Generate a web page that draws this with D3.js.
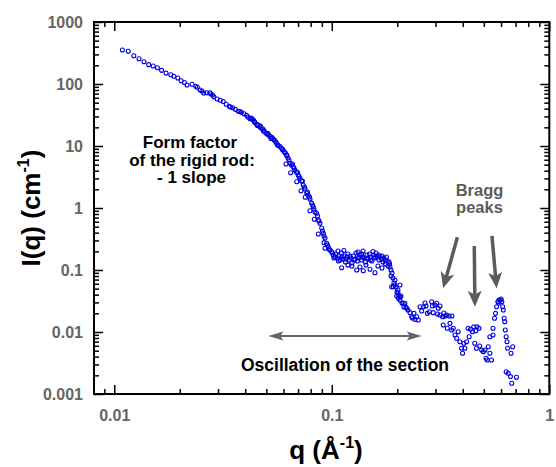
<!DOCTYPE html>
<html>
<head>
<meta charset="utf-8">
<script src="https://cdn.jsdelivr.net/npm/d3@7"></script>
<style>
  body { margin: 0; background: #fff; }
  svg { display: block; }
  text { font-family: "Liberation Sans", Arial, Helvetica, sans-serif; font-weight: bold; }
</style>
</head>
<body>
<svg id="chart" width="556" height="467"></svg>
<script>
// Scattering vector q (Å^-1)
const q = [
  0.0109,0.0116,0.0123,0.0130,0.0137,0.0144,0.0151,0.0158,0.0165,0.0173,
  0.0182,0.0188,0.0196,0.0203,0.0210,0.0216,0.0228,0.0237,0.0241,0.0248,
  0.0258,0.0266,0.0275,0.0278,0.0287,0.0297,0.0307,0.0317,0.0327,0.0338,
  0.0350,0.0360,0.0372,0.0384,0.0395,0.0406,0.0412,0.0421,0.0430,0.0436,
  0.0443,0.0452,0.0458,0.0466,0.0473,0.0481,0.0488,0.0497,0.0504,0.0514,
  0.0523,0.0533,0.0540,0.0550,0.0557,0.0567,0.0578,0.0588,0.0597,0.0605,
  0.0612,0.0616,0.0620,0.0629,0.0643,0.0647,0.0653,0.0665,0.0677,0.0688,
  0.0690,0.0701,0.0714,0.0722,0.0726,0.0739,0.0753,0.0755,0.0767,0.0780,
  0.0794,0.0794,0.0808,0.0815,0.0822,0.0831,0.0837,0.0852,0.0860,0.0867,
  0.0867,0.0883,0.0899,0.0906,0.0914,0.0921,0.0931,0.0931,0.0947,0.0964,
  0.0971,0.0981,0.0999,0.1016,0.1034,
  0.0253,0.0283,0.0342,0.0378,0.0427,0.0441,0.0455,0.0470,0.0485,0.0509,
  0.0525,0.0545,0.0563,0.0593,0.0622,0.0636,0.0660,0.0670,0.0696,0.0707,
  0.0733,0.0749,0.0773,0.0790,0.0828,0.0874,0.0921,0.0956,0.1007,0.1023,
  0.1045,0.1062,0.1068,0.1073,0.1079,0.1091,0.1108,0.1110,0.1114,0.1125,
  0.1137,0.1137,0.1156,0.1162,0.1175,0.1187,0.1187,0.1206,0.1212,0.1225,
  0.1238,0.1238,0.1258,0.1265,0.1279,0.1292,0.1302,0.1313,0.1320,0.1327,
  0.1334,0.1348,0.1348,0.1370,0.1373,0.1377,0.1392,0.1396,0.1406,0.1429,
  0.1436,0.1444,0.1451,0.1467,0.1491,0.1499,0.1506,0.1515,0.1530,0.1547,
  0.1555,0.1563,0.1580,0.1580,0.1597,0.1622,0.1630,0.1639,0.1648,0.1665,
  0.1692,0.1701,0.1701,0.1719,0.1737,0.1756,0.1765,0.1784,0.1794,0.1813,
  0.1833,0.1843,0.1852,0.1872,0.1872,0.1885,0.1891,0.1911,0.1917,0.1931,
  0.1952,0.1952,0.1973,0.1988,0.1994,0.2015,0.2015,0.2021,0.2036,0.2058,
  0.2058,0.2058,0.2080,0.2102,0.2130,0.2146,0.2169,0.2192,0.2210,0.2241,
  0.2289,0.2330,0.2350,0.2387,0.2412,0.2456,0.2499,0.2545,0.2590,0.2636,
  0.2684,0.2711,0.2750,0.2809,0.2879,0.2902,0.2928,0.2981,0.3036,0.3062,
  0.3087,0.3143,0.3143,0.3232,0.3253,0.3277,0.3312,0.3374,0.3395,0.3467,
  0.3494,0.3557,0.3568,0.3618,0.3683,0.3751,0.3813,0.3882,0.3952,0.3994,
  0.4049,0.4092,0.4165,0.4235,0.4280,0.4342,0.4433,0.4494,0.4542,0.4590,
  0.4621,0.4652,0.4751,0.4785,0.4886,0.4976,0.5067,0.5121,0.5185,0.5240,
  0.5331,0.5331,0.5422,0.5510,0.5510,0.5600,0.5655,0.5725,0.5800,0.5843,
  0.5870,0.5962,0.6003,0.6050,0.6106,0.6145,0.6202,0.6242,0.6276,0.6334,
  0.6334,0.6392,0.6433,0.6474,0.6628,0.6669,0.6718,0.6789,0.7062
];

// Scattered intensity I(q) (cm^-1)
const intensity = [
  353,337,286,256,229,205,195,183,166,150,
  141,133,125,113,106,96.3,98.9,91.8,88.5,80.0,
  71.6,72.3,72.3,69.6,62.1,57.2,54.8,52.1,47.1,43.7,
  41.5,39.0,36.3,34.9,33.1,31.2,29.4,27.5,27.2,26.2,
  23.9,22.4,21.8,20.6,19.5,19.0,17.8,16.4,15.6,14.9,
  14.2,13.5,12.7,11.9,11.2,10.3,9.80,9.18,8.62,8.09,
  7.71,5.13,7.16,6.40,5.26,3.71,4.94,4.64,4.10,3.81,
  2.65,3.41,3.01,1.90,2.73,2.35,2.03,1.49,1.75,1.62,
  1.40,0.905,1.20,1.12,1.05,0.657,0.862,0.821,0.743,0.640,
  0.381,0.566,0.476,0.426,0.391,0.276,0.328,0.224,0.270,0.235,
  0.218,0.210,0.197,0.175,0.164,
  77.1,66.5,42.6,36.0,28.3,24.9,21.4,21.0,17.5,15.9,
  13.2,12.5,10.4,8.78,7.03,5.95,5.13,4.42,3.74,3.22,
  2.73,2.18,1.81,1.50,0.963,0.617,0.354,0.253,0.188,0.156,
  0.181,0.156,0.202,0.140,0.168,0.145,0.188,0.109,0.162,0.150,
  0.168,0.206,0.135,0.150,0.162,0.181,0.120,0.145,0.168,0.156,
  0.130,0.116,0.168,0.145,0.150,0.188,0.100,0.140,0.195,0.156,
  0.162,0.175,0.112,0.145,0.181,0.162,0.202,0.0974,0.156,0.135,
  0.120,0.156,0.175,0.150,0.181,0.103,0.145,0.162,0.140,0.199,
  0.175,0.162,0.156,0.0905,0.188,0.162,0.116,0.175,0.145,0.168,
  0.150,0.168,0.108,0.135,0.156,0.145,0.125,0.162,0.140,0.116,
  0.135,0.125,0.112,0.100,0.0800,0.0538,0.0895,0.0743,0.0538,0.0617,
  0.0690,0.0573,0.0532,0.0381,0.0442,0.0476,0.0426,0.0350,0.0381,0.0328,
  0.0573,0.0367,0.0381,0.0294,0.0291,0.0253,0.0291,0.0250,0.0241,0.0226,
  0.0205,0.0176,0.0168,0.0200,0.0160,0.0176,0.0156,0.0256,0.0218,0.0256,
  0.0294,0.0263,0.0200,0.0212,0.0308,0.0263,0.0205,0.0273,0.0291,0.0195,
  0.0241,0.0263,0.0188,0.0176,0.0130,0.0202,0.0181,0.0188,0.0115,0.0181,
  0.0138,0.0108,0.0181,0.0115,0.00895,0.00791,0.0101,0.00697,0.00546,0.00454,
  0.00657,0.00546,0.00697,0.0115,0.00840,0.0111,0.0101,0.0121,0.00657,0.0105,
  0.00546,0.0121,0.0115,0.00595,0.00513,0.00482,0.00513,0.00377,0.00354,0.00579,
  0.00454,0.00840,0.00354,0.0115,0.00895,0.0167,0.0200,0.0256,0.0308,0.0294,
  0.0328,0.0328,0.0341,0.0308,0.0256,0.0226,0.0167,0.0146,0.0108,0.00840,
  0.00229,0.00697,0.00546,0.00216,0.00191,0.00454,0.00149,0.00579,0.00186
];

// Labelled decades on each axis
const xTickValues = [0.01, 0.1, 1];
const xTickLabels = ["0.01", "0.1", "1"];
const yTickValues = [0.001, 0.01, 0.1, 1, 10, 100, 1000];
const yTickLabels = ["0.001", "0.01", "0.1", "1", "10", "100", "1000"];

// Annotation texts
const formFactorLines = ["Form factor", "of the rigid rod:", "- 1 slope"];
const braggLines = ["Bragg", "peaks"];
const oscillationText = "Oscillation of the section";

// Arrow anchors in data coordinates: [q, I] for tail and tip
const braggArrows = [
  { from: [0.378, 0.337], to: [0.325, 0.0507] },
  { from: [0.452, 0.244], to: [0.455, 0.0256] },
  { from: [0.545, 0.354], to: [0.5725, 0.0507] }
];
const oscillationSpan = { qStart: 0.0511, qEnd: 0.259, level: 0.00862 };

const svg = d3.select("#chart");
const plot = { left: 94, right: 549.3, top: 22, bottom: 394 };

const x = d3.scaleLog().domain([0.00807, 1]).range([plot.left, plot.right]);
const y = d3.scaleLog().domain([0.001, 1000]).range([plot.bottom, plot.top]);

const isDecade = v => Math.abs(Math.log10(v) - Math.round(Math.log10(v))) < 1e-9;
const xMinor = x.ticks().filter(v => !isDecade(v));
const yMinor = y.ticks().filter(v => !isDecade(v));

const labelColor = "#666666";

function styleAxis(g, width) {
  g.select(".domain").remove();
  g.selectAll(".tick line").attr("stroke", "#000").attr("stroke-width", width);
}

// Bottom axis: labelled majors + minors, ticks pointing inward
const bottomMajor = svg.append("g")
  .attr("transform", `translate(0,${plot.bottom})`)
  .call(d3.axisBottom(x).tickValues(xTickValues)
    .tickFormat((d, i) => xTickLabels[i]).tickSizeInner(-9).tickSizeOuter(0).tickPadding(16));
styleAxis(bottomMajor, 1.5);
bottomMajor.selectAll("text").attr("fill", labelColor).style("font-size", "16px");

const bottomMinor = svg.append("g")
  .attr("transform", `translate(0,${plot.bottom})`)
  .call(d3.axisBottom(x).tickValues(xMinor).tickFormat("").tickSizeInner(-5).tickSizeOuter(0));
styleAxis(bottomMinor, 1.5);

// Top axis (mirror ticks)
const topMajor = svg.append("g")
  .attr("transform", `translate(0,${plot.top})`)
  .call(d3.axisTop(x).tickValues(xTickValues).tickFormat("").tickSizeInner(-9).tickSizeOuter(0));
styleAxis(topMajor, 1.5);
const topMinor = svg.append("g")
  .attr("transform", `translate(0,${plot.top})`)
  .call(d3.axisTop(x).tickValues(xMinor).tickFormat("").tickSizeInner(-5).tickSizeOuter(0));
styleAxis(topMinor, 1.5);

// Left axis
const leftMajor = svg.append("g")
  .attr("transform", `translate(${plot.left},0)`)
  .call(d3.axisLeft(y).tickValues(yTickValues)
    .tickFormat((d, i) => yTickLabels[i]).tickSizeInner(-9).tickSizeOuter(0).tickPadding(11));
styleAxis(leftMajor, 1.5);
leftMajor.selectAll("text").attr("fill", labelColor).style("font-size", "16px");
const leftMinor = svg.append("g")
  .attr("transform", `translate(${plot.left},0)`)
  .call(d3.axisLeft(y).tickValues(yMinor).tickFormat("").tickSizeInner(-5).tickSizeOuter(0));
styleAxis(leftMinor, 1.5);

// Right axis (mirror ticks)
const rightMajor = svg.append("g")
  .attr("transform", `translate(${plot.right},0)`)
  .call(d3.axisRight(y).tickValues(yTickValues).tickFormat("").tickSizeInner(-9).tickSizeOuter(0));
styleAxis(rightMajor, 1.5);
const rightMinor = svg.append("g")
  .attr("transform", `translate(${plot.right},0)`)
  .call(d3.axisRight(y).tickValues(yMinor).tickFormat("").tickSizeInner(-5).tickSizeOuter(0));
styleAxis(rightMinor, 1.5);

// Plot frame
svg.append("rect")
  .attr("x", plot.left).attr("y", plot.top)
  .attr("width", plot.right - plot.left).attr("height", plot.bottom - plot.top)
  .attr("fill", "none").attr("stroke", "#000").attr("stroke-width", 2);

// Data: open circles
svg.append("g")
  .selectAll("circle")
  .data(q.map((v, i) => [v, intensity[i]]))
  .join("circle")
  .attr("cx", d => x(d[0]))
  .attr("cy", d => y(d[1]))
  .attr("r", 2)
  .attr("fill", "none")
  .attr("stroke", "#0000dd")
  .attr("stroke-width", 1.1);

// Arrow helper: shaft plus a notched, filled head
function arrowHead(g, tip, dir, len, half, notch, color) {
  const [ux, uy] = dir;
  const px = -uy, py = ux;
  const bx = tip[0] - ux * len, by = tip[1] - uy * len;
  const nx = tip[0] - ux * (len - notch), ny = tip[1] - uy * (len - notch);
  g.append("path")
    .attr("d", `M${tip[0]},${tip[1]} L${bx + px * half},${by + py * half} L${nx},${ny} L${bx - px * half},${by - py * half} Z`)
    .attr("fill", color);
}
function unit(a, b) {
  const dx = b[0] - a[0], dy = b[1] - a[1];
  const l = Math.hypot(dx, dy);
  return [dx / l, dy / l];
}

const notes = svg.append("g");

// Bragg peak arrows
const braggColor = "#5c5c5c";
braggArrows.forEach(a => {
  const p0 = [x(a.from[0]), y(a.from[1])];
  const p1 = [x(a.to[0]), y(a.to[1])];
  const u = unit(p0, p1);
  notes.append("line")
    .attr("x1", p0[0]).attr("y1", p0[1])
    .attr("x2", p1[0] - u[0] * 10).attr("y2", p1[1] - u[1] * 10)
    .attr("stroke", braggColor).attr("stroke-width", 3.5);
  arrowHead(notes, p1, u, 16, 7, 4, braggColor);
});

// Double-headed arrow over the oscillation range
const oscColor = "#666666";
const a0 = [x(oscillationSpan.qStart), y(oscillationSpan.level)];
const a1 = [x(oscillationSpan.qEnd), y(oscillationSpan.level)];
notes.append("line")
  .attr("x1", a0[0] + 8).attr("y1", a0[1])
  .attr("x2", a1[0] - 8).attr("y2", a1[1])
  .attr("stroke", oscColor).attr("stroke-width", 2);
arrowHead(notes, a1, unit(a0, a1), 15, 4.5, 3, oscColor);
arrowHead(notes, a0, unit(a1, a0), 15, 4.5, 3, oscColor);

// Text annotations
const formBaselines = [148, 165.5, 183];
const formCenters = [190, 192, 191.5];
formFactorLines.forEach((t, i) => {
  notes.append("text")
    .attr("x", formCenters[i]).attr("y", formBaselines[i])
    .attr("text-anchor", "middle").attr("fill", "#000")
    .style("font-size", "17px").text(t);
});
braggLines.forEach((t, i) => {
  notes.append("text")
    .attr("x", 479.5).attr("y", 196 + i * 16.5)
    .attr("text-anchor", "middle").attr("fill", braggColor)
    .style("font-size", "16.5px").text(t);
});
notes.append("text")
  .attr("x", 345).attr("y", 371)
  .attr("text-anchor", "middle").attr("fill", "#000")
  .style("font-size", "17.5px").text(oscillationText);

// Axis titles
const xTitle = svg.append("text")
  .attr("x", 326).attr("y", 459)
  .attr("text-anchor", "middle").attr("fill", "#000")
  .style("font-size", "26px");
xTitle.append("tspan").text("q (Å");
xTitle.append("tspan").attr("dy", -11).style("font-size", "16px").text("-1");
xTitle.append("tspan").attr("dy", 11).text(")");

const yTitle = svg.append("text")
  .attr("transform", "translate(40,208) rotate(-90)")
  .attr("text-anchor", "middle").attr("fill", "#000")
  .style("font-size", "26px");
yTitle.append("tspan").text("I(q) (cm");
yTitle.append("tspan").attr("dy", -11).style("font-size", "16px").text("-1");
yTitle.append("tspan").attr("dy", 11).text(")");
</script>
</body>
</html>
